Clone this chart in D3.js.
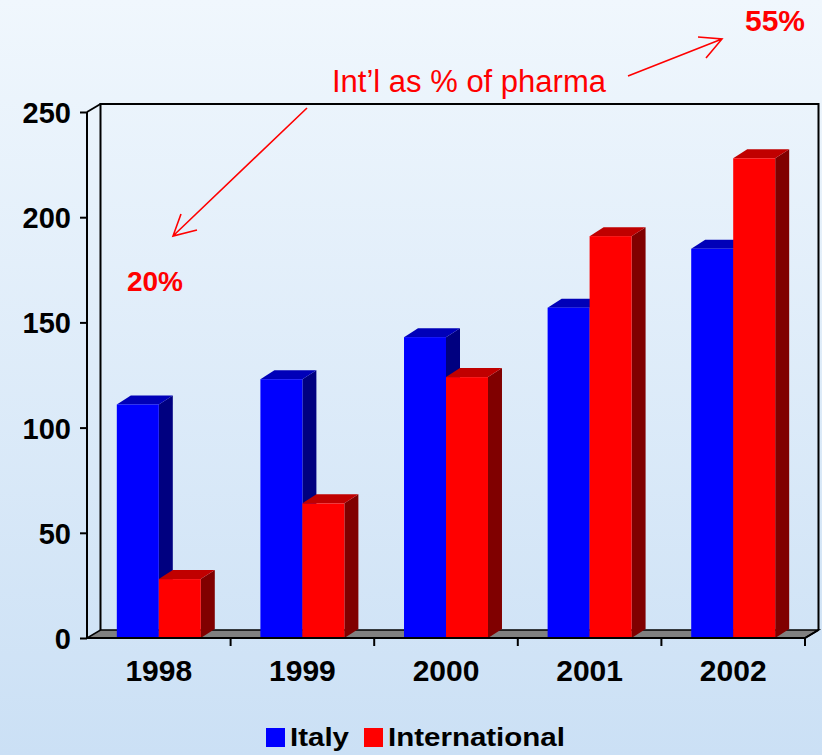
<!DOCTYPE html>
<html>
<head>
<meta charset="utf-8">
<script src="https://cdn.jsdelivr.net/npm/d3@7/dist/d3.min.js"></script>
<style>
  body { margin: 0; padding: 0; }
  svg { display: block; }
  text { font-family: "Liberation Sans", Arial, sans-serif; }
</style>
</head>
<body>
<div id="chart"></div>
<script>
// data
var years = ["1998", "1999", "2000", "2001", "2002"];
var seriesNames = ["Italy", "International"];
var italy = [111, 123, 143, 157, 185];
var international = [28, 64, 124, 191, 228];
var yTicks = [0, 50, 100, 150, 200, 250];
var pctLabels = ["20%", "55%"];
var noteText = "Int\u2019l as % of pharma";

var colors = {
    Italy: { front: "#0000ff", top: "#0000b8", side: "#000080" },
    International: { front: "#ff0000", top: "#c00000", side: "#800000" }
};

var W = 822, H = 755;
var margin = { left: 87, right: 17, top: 112, bottom: 117 };
var depth = { dx: 13.5, dy: -8 };   // wall / floor depth
var barDepth = { dx: 14, dy: -9 };

var svg = d3.select("#chart").append("svg")
    .attr("width", W)
    .attr("height", H);

// background gradient
var grad = svg.append("defs").append("linearGradient")
    .attr("id", "bg")
    .attr("x1", 0).attr("y1", 0).attr("x2", 0).attr("y2", 1);
grad.append("stop").attr("offset", "0%").attr("stop-color", "#f0f7fd");
grad.append("stop").attr("offset", "100%").attr("stop-color", "#cbe0f5");
svg.append("rect").attr("width", W).attr("height", H).attr("fill", "url(#bg)");

// scales
var x = d3.scaleBand()
    .domain(years)
    .range([margin.left, W - margin.right])
    .padding(0);

var xEdge = d3.scaleLinear()
    .domain([0, years.length])
    .range([margin.left, W - margin.right]);

var xs = d3.scaleBand()
    .domain(seriesNames)
    .range([0, x.bandwidth()])
    .paddingInner(0)
    .paddingOuter(0.71);

var y = d3.scaleLinear()
    .domain([0, 250])
    .range([H - margin.bottom, margin.top]);

var x0 = xEdge(0), x1 = xEdge(years.length);
var yb = y(0), yt = y(250);

// floor
svg.append("path")
    .attr("d", "M" + x0 + "," + yb + "L" + x1 + "," + yb +
        "L" + (x1 + depth.dx) + "," + (yb + depth.dy) +
        "L" + (x0 + depth.dx) + "," + (yb + depth.dy) + "Z")
    .attr("fill", "#808080")
    .attr("stroke", "#000")
    .attr("stroke-width", 1.5);

// walls
var walls = svg.append("g")
    .attr("fill", "none")
    .attr("stroke", "#000")
    .attr("stroke-width", 2);
walls.append("path")
    .attr("d", "M" + (x0 + depth.dx) + "," + (yb + depth.dy) +
        "L" + (x0 + depth.dx) + "," + (yt + depth.dy) +
        "L" + (x1 + depth.dx) + "," + (yt + depth.dy) +
        "L" + (x1 + depth.dx) + "," + (yb + depth.dy));
walls.append("path")
    .attr("d", "M" + x0 + "," + yt + "L" + (x0 + depth.dx) + "," + (yt + depth.dy));

// bars
var bars = [];
years.forEach(function(yr, i) {
    bars.push({ year: yr, series: "Italy", value: italy[i] });
    bars.push({ year: yr, series: "International", value: international[i] });
});

var barG = svg.append("g").selectAll("g")
    .data(bars)
    .enter().append("g");

barG.each(function(d) {
    var g = d3.select(this);
    var bx0 = x(d.year) + xs(d.series);
    var bx1 = bx0 + xs.bandwidth();
    var top = y(d.value);
    var c = colors[d.series];
    // side
    g.append("path")
        .attr("d", "M" + bx1 + "," + top +
            "L" + (bx1 + barDepth.dx) + "," + (top + barDepth.dy) +
            "L" + (bx1 + barDepth.dx) + "," + (yb + barDepth.dy) +
            "L" + bx1 + "," + yb + "Z")
        .attr("fill", c.side);
    // top
    g.append("path")
        .attr("d", "M" + bx0 + "," + top +
            "L" + (bx0 + barDepth.dx) + "," + (top + barDepth.dy) +
            "L" + (bx1 + barDepth.dx) + "," + (top + barDepth.dy) +
            "L" + bx1 + "," + top + "Z")
        .attr("fill", c.top);
    // front
    g.append("rect")
        .attr("x", bx0)
        .attr("y", top)
        .attr("width", xs.bandwidth())
        .attr("height", yb - top)
        .attr("fill", c.front);
});

// y axis
var yAxis = svg.append("g")
    .attr("transform", "translate(" + x0 + ",0)")
    .call(d3.axisLeft(y).tickValues(yTicks).tickSize(7).tickPadding(9).tickFormat(d3.format("d")));
yAxis.select(".domain").attr("stroke-width", 2).attr("d", "M0," + yt + "V" + yb);
yAxis.selectAll(".tick line").attr("stroke-width", 2);
yAxis.selectAll("text")
    .attr("font-size", 29)
    .attr("font-weight", "bold")
    .attr("fill", "#000")
    .attr("dy", "0.36em");

// x axis
var xAxis = svg.append("g")
    .attr("transform", "translate(0," + yb + ")")
    .call(d3.axisBottom(x).tickSize(0).tickPadding(22));
xAxis.select(".domain").attr("stroke-width", 2).attr("d", "M" + x0 + ",0H" + x1 + "l" + depth.dx + "," + depth.dy);
xAxis.selectAll("text")
    .attr("font-size", 30)
    .attr("font-weight", "bold")
    .attr("fill", "#000")
    .attr("dy", "0.71em");
xAxis.selectAll(".edge")
    .data(d3.range(1, years.length + 1))
    .enter().append("line")
    .attr("class", "edge")
    .attr("x1", function(d) { return xEdge(d); })
    .attr("x2", function(d) { return xEdge(d); })
    .attr("y1", 0)
    .attr("y2", 8)
    .attr("stroke", "#000")
    .attr("stroke-width", 2);

// annotations
var red = "#ff0000";
svg.append("text")
    .attr("x", 332).attr("y", 92)
    .attr("font-size", 31)
    .attr("fill", red)
    .text(noteText);

svg.append("text")
    .attr("x", 155).attr("y", 291)
    .attr("text-anchor", "middle")
    .attr("font-size", 28)
    .attr("font-weight", "bold")
    .attr("fill", red)
    .text(pctLabels[0]);

svg.append("text")
    .attr("x", 775).attr("y", 31)
    .attr("text-anchor", "middle")
    .attr("font-size", 30)
    .attr("font-weight", "bold")
    .attr("fill", red)
    .text(pctLabels[1]);

var arrows = [
    { from: [307, 108], to: [173, 236], wings: [[181, 214], [197, 230]] },
    { from: [628, 76], to: [722, 39], wings: [[698, 37], [706, 58]] }
];
svg.append("g").selectAll("path")
    .data(arrows)
    .enter().append("path")
    .attr("d", function(a) {
        return "M" + a.from + "L" + a.to +
            "M" + a.wings[0] + "L" + a.to + "L" + a.wings[1];
    })
    .attr("fill", "none")
    .attr("stroke", red)
    .attr("stroke-width", 1.6);

// legend
var legend = svg.append("g").attr("transform", "translate(266,728)");
var legendX = [0, 98];
seriesNames.forEach(function(name, i) {
    var lg = legend.append("g").attr("transform", "translate(" + legendX[i] + ",0)");
    lg.append("rect")
        .attr("width", 19).attr("height", 19)
        .attr("fill", colors[name].front);
    lg.append("text")
        .attr("transform", "translate(24,18) scale(1.18,1)")
        .attr("font-size", 25)
        .attr("font-weight", "bold")
        .attr("fill", "#000")
        .text(name);
});
</script>
</body>
</html>
